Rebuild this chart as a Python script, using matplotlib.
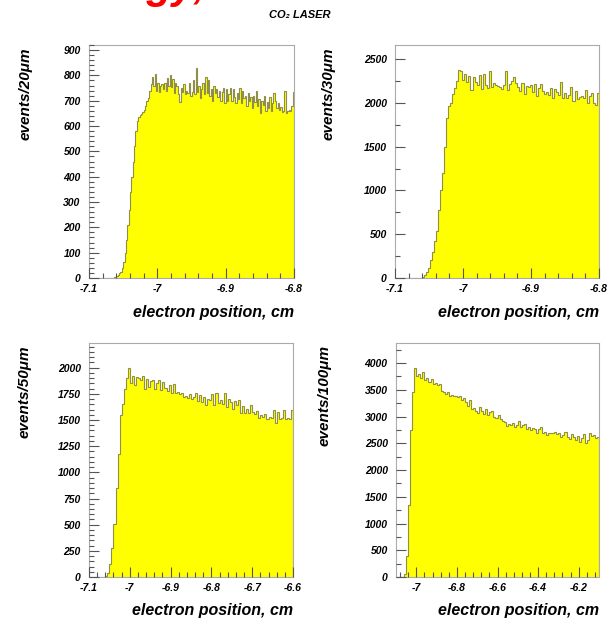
import numpy as np
import matplotlib
matplotlib.use("Agg")
import matplotlib.pyplot as plt
from matplotlib.ticker import MultipleLocator

plt.rcParams['font.family'] = ['Liberation Sans', 'DejaVu Sans']

# --- data (bin contents) ---
ev20 = [0] * 18 + [2, 4, 8, 12, 18, 25, 40, 65, 100, 150, 210, 270, 340, 400, 460, 520,
       580, 620, 635, 645, 648, 655, 665, 680, 700, 710, 740, 765,
       795, 760, 805, 740, 770, 735, 760, 765, 745, 770, 740, 790, 760, 800, 755, 785,
       730, 770, 760, 725, 695, 750, 735, 765, 725, 740, 730, 770, 720, 735, 780, 725,
       830, 735, 760, 710, 745, 770, 725, 795, 730, 780, 720, 745, 700, 760, 730, 745,
       715, 740, 700, 735, 750, 690, 745, 700, 725, 750, 700, 745, 715, 690, 730, 705,
       750, 690, 740, 710, 720, 680, 730, 700, 715, 670, 720, 695, 740, 680, 705, 650,
       700, 685, 720, 660, 695, 670, 715, 660, 690, 730, 700, 670, 690, 665, 675, 655,
       660, 740, 650, 660, 665, 660, 680, 735]

ev30 = [0] * 13 + [15, 35, 70, 110, 200, 300, 420, 540, 780, 1000, 1200, 1500, 1830,
       1960, 2000, 2100, 2170, 2250, 2380, 2360, 2260, 2330, 2240, 2310, 2150, 2290,
       2240, 2200, 2320, 2160, 2330, 2200, 2170, 2360, 2180, 2230, 2200, 2190, 2180,
       2160, 2200, 2360, 2150, 2210, 2250, 2290, 2230, 2180, 2130, 2230, 2100, 2190,
       2180, 2200, 2120, 2220, 2080, 2170, 2210, 2130, 2100, 2120, 2090, 2170, 2050,
       2160, 2120, 2090, 2240, 2060, 2110, 2060, 2090, 2180, 2020, 2130, 2040, 2070,
       2080, 2050, 2150, 2000, 2080, 2110, 2000, 1980, 2110]

ev50 = [0] * 8 + [10, 40, 120, 280, 510, 850, 1180, 1550, 1650, 1800, 1900, 2000,
       1850, 1920, 1830, 1910, 1900, 1880, 1920, 1800, 1890, 1820, 1870, 1880, 1800,
       1850, 1880, 1790, 1860, 1810, 1780, 1830, 1760, 1840, 1760, 1770, 1750, 1760,
       1720, 1730, 1710, 1750, 1700, 1720, 1760, 1680, 1740, 1670, 1720, 1640, 1700,
       1690, 1750, 1640, 1760, 1660, 1690, 1650, 1760, 1620, 1700, 1670, 1610, 1680,
       1640, 1690, 1570, 1630, 1570, 1610, 1570, 1640, 1580, 1560, 1590, 1520, 1550,
       1530, 1560, 1510, 1530, 1520, 1600, 1470, 1580, 1510, 1520, 1600, 1510, 1520,
       1510, 1600]

ev100 = [0] * 4 + [60, 400, 1350, 2750, 3450, 3900, 3750, 3800, 3720, 3830, 3680,
        3720, 3650, 3700, 3600, 3620, 3590, 3600, 3480, 3450, 3420, 3460, 3380, 3400,
        3380, 3390, 3360, 3380, 3300, 3350, 3270, 3200, 3300, 3140, 3160, 3100, 3060,
        3180, 3100, 3050, 3150, 3020, 3080, 3110, 3000, 2980, 3020, 2950, 2920, 2900,
        2830, 2860, 2840, 2880, 2810, 2850, 2910, 2800, 2840, 2860, 2770, 2800, 2740,
        2790, 2760, 2700, 2760, 2800, 2700, 2720, 2650, 2700, 2700, 2690, 2720, 2680,
        2700, 2610, 2660, 2720, 2620, 2580, 2680, 2620, 2560, 2640, 2520, 2600, 2680,
        2500, 2560, 2700, 2640, 2660, 2600, 2620]

ylabels = ['events/20\u03bcm', 'events/30\u03bcm', 'events/50\u03bcm', 'events/100\u03bcm']
xranges = [(-7.1, -6.8), (-7.1, -6.8), (-7.1, -6.6), (-7.1, -6.1)]

W, H = 612, 619
fig = plt.figure(figsize=(W / 100, H / 100), dpi=100)

# panel boxes in pixels: left, top, right, bottom
boxes = [(89, 45, 294, 278), (395, 45, 599, 278), (89, 343, 293, 577), (396, 343, 599, 577)]
ylims = [920, 2660, 2236, 4375]
ymaj = [100, 500, 250, 500]
ymin = [20, 250, 50, 250]
xmaj = [0.1, 0.1, 0.1, 0.2]
xmin = [0.02, 0.02, 0.02, 0.04]
ylab_x = [26, 329, 25, 325]

data = [ev20, ev30, ev50, ev100]
tickfont = dict(family=['Liberation Sans', 'DejaVu Sans'], style='italic', weight='bold', size=7.5)

for i, vals in enumerate(data):
    l, t, r, b = boxes[i]
    ax = fig.add_axes([l / W, 1 - b / H, (r - l) / W, (b - t) / H])
    x0, x1 = xranges[i]
    edges = np.linspace(x0, x1, len(vals) + 1)
    ax.stairs(vals, edges, fill=True, color='#ffff00', zorder=1)
    ax.stairs(vals, edges, color='#8f8f4a', lw=0.8, zorder=2)
    ax.set_xlim(x0, x1)
    ax.set_ylim(0, ylims[i])
    ax.xaxis.set_major_locator(MultipleLocator(xmaj[i]))
    ax.xaxis.set_minor_locator(MultipleLocator(xmin[i]))
    ax.yaxis.set_major_locator(MultipleLocator(ymaj[i]))
    ax.yaxis.set_minor_locator(MultipleLocator(ymin[i]))
    ax.tick_params(which='both', direction='in', top=False, right=False, color='#555555', width=0.8)
    ax.tick_params(which='major', length=7)
    ax.tick_params(which='minor', length=3.5)
    ax.tick_params(axis='x', pad=4)
    ax.tick_params(axis='y', pad=6)
    ax.set_axisbelow(False)
    for s in ax.spines.values():
        s.set_color('#aaaaaa')
        s.set_linewidth(0.8)
    ax.xaxis.set_major_formatter(plt.FuncFormatter(lambda v, p: ('%g' % round(v, 3))))
    for lab in ax.get_xticklabels() + ax.get_yticklabels():
        lab.set_fontproperties(matplotlib.font_manager.FontProperties(**tickfont))
    fig.text(ylab_x[i] / W, 1 - (t + 2) / H, ylabels[i], rotation=90, ha='center', va='top',
             fontsize=11, style='italic', weight='bold')
    fig.text(r / W, 1 - (b + 34) / H, 'electron position, cm', ha='right', va='center',
             fontsize=11.5, style='italic', weight='bold')

fig.text(300 / W, 1 - 15 / H, 'CO\u2082 LASER', ha='center', va='center',
         fontsize=8, style='italic', weight='bold')
# red heading above the frame: only its descenders show, as in the original
fig.text(205 / W, 1 + 2 / H, 'Energy,', ha='right', va='baseline', color='red',
         fontsize=30, style='italic', weight='bold')

fig.savefig('out.png', dpi=100)
